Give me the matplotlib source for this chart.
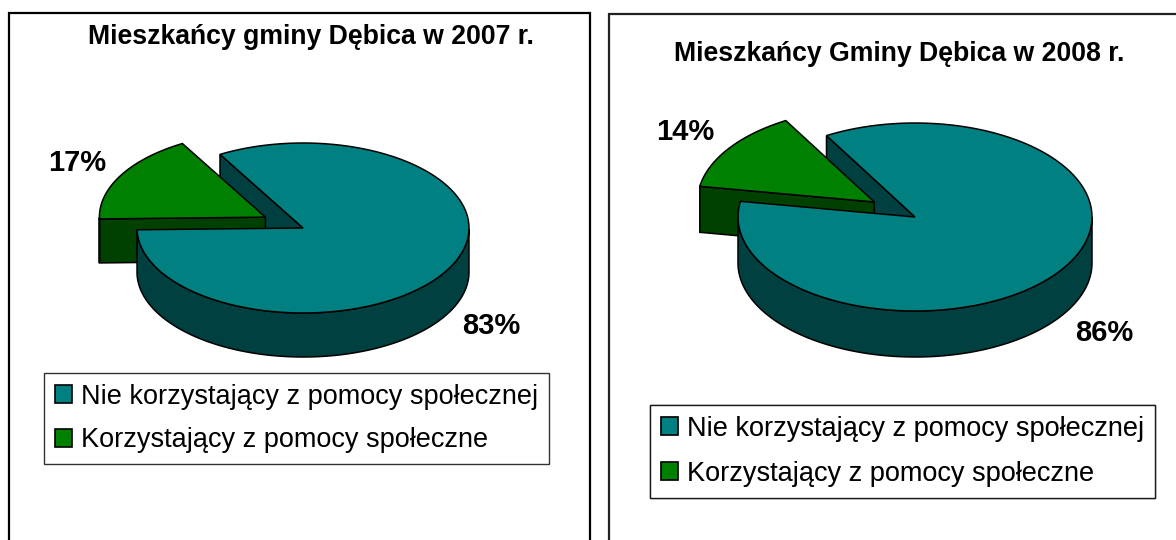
import numpy as np
import matplotlib
matplotlib.use("Agg")
import matplotlib.pyplot as plt
from matplotlib.patches import Polygon, Patch

plt.rcParams["font.family"] = ["Liberation Sans", "DejaVu Sans"]

# data
labels = ["Nie korzystający z pomocy społecznej", "Korzystający z pomocy społeczne"]
titles = ["Mieszkańcy gminy Dębica w 2007 r.", "Mieszkańcy Gminy Dębica w 2008 r."]
values_2007 = [83, 17]
values_2008 = [86, 14]

TOP = ["#008080", "#008000"]
SIDE = ["#004040", "#004000"]
EC = "k"
LW = 1.1

# layout in pixels (fig is 1176 x 540, y down)
panels = [
    dict(values=values_2007, title=titles[0], title_xy=(311, 37),
         cx=303, cy=228, rx=166, ry=85, depth=44, explode=[0, 0.26],
         legend_xy=(44, 373), labelspacing=0.64),
    dict(values=values_2008, title=titles[1], title_xy=(899, 54),
         cx=915, cy=217, rx=177, ry=94, depth=46, explode=[0, 0.28],
         legend_xy=(650, 405), labelspacing=0.7),
]


def arc(cx, cy, rx, ry, t0, t1, n=120):
    t = np.radians(np.linspace(t0, t1, n))
    return np.column_stack([cx + rx * np.cos(t), cy - ry * np.sin(t)])


def pie3d(ax, values, cx, cy, rx, ry, depth, explode, start=120.0):
    fr = np.asarray(values, float) / np.sum(values)
    hi = start - 360 * np.concatenate([[0], np.cumsum(fr)[:-1]])
    lo = hi - 360 * fr
    centers = []
    for i in range(len(fr)):
        mid = np.radians((hi[i] + lo[i]) / 2)
        centers.append((cx + explode[i] * rx * np.cos(mid),
                        cy - explode[i] * ry * np.sin(mid)))
    d = np.array([0, depth])

    # radial side faces that face the viewer
    for i in range(len(fr)):
        vx, vy = centers[i]
        for a, vis in ((hi[i], np.cos(np.radians(hi[i])) < 0),
                       (lo[i], np.cos(np.radians(lo[i])) > 0)):
            if not vis:
                continue
            p = arc(vx, vy, rx, ry, a, a, 1)[0]
            v = np.array([vx, vy])
            ax.add_patch(Polygon([v, p, p + d, v + d], closed=True,
                                 fc=SIDE[i], ec=EC, lw=LW, joinstyle="miter"))
    # front outer walls
    for i in range(len(fr)):
        vx, vy = centers[i]
        t = np.linspace(lo[i], hi[i], 400)
        front = t[np.sin(np.radians(t)) <= 0]
        if len(front) < 2:
            continue
        top = arc(vx, vy, rx, ry, front[0], front[-1])
        ax.add_patch(Polygon(np.vstack([top, (top + d)[::-1]]), closed=True,
                             fc=SIDE[i], ec=EC, lw=LW))
    # top faces (exploded ones first)
    for i in np.argsort(-np.asarray(explode)):
        vx, vy = centers[i]
        top = arc(vx, vy, rx, ry, lo[i], hi[i])
        ax.add_patch(Polygon(np.vstack([[vx, vy], top]), closed=True,
                             fc=TOP[i], ec=EC, lw=LW))
    # percentage labels
    for i in range(len(fr)):
        vx, vy = centers[i]
        mid = np.radians((hi[i] + lo[i]) / 2)
        lx = vx + 1.3 * rx * np.cos(mid)
        ly = vy - 1.3 * ry * np.sin(mid) + (depth if np.sin(mid) < 0 else 0)
        ax.text(lx, ly, f"{values[i]:.0f}%", ha="center", va="center",
                fontsize=21, fontweight="bold")


fig = plt.figure(figsize=(11.76, 5.4), dpi=100)
ax = fig.add_axes([0, 0, 1, 1])
ax.set_xlim(0, 1176)
ax.set_ylim(540, 0)
ax.axis("off")

# panel frames
ax.plot([9, 9, 590, 590], [545, 13, 13, 545], color="k", lw=1.6,
        solid_joinstyle="miter")
ax.plot([609, 609, 1180], [545, 14, 14], color="#222222", lw=1.6,
        solid_joinstyle="miter")

for p in panels:
    pie3d(ax, p["values"], p["cx"], p["cy"], p["rx"], p["ry"], p["depth"],
          p["explode"])
    ax.text(*p["title_xy"], p["title"], ha="center", va="center",
            fontsize=19.2, fontweight="bold")
    handles = [Patch(fc=TOP[i], ec=EC, lw=1.2) for i in range(len(labels))]
    leg = ax.legend(handles, labels, loc="upper left",
                    bbox_to_anchor=p["legend_xy"],
                    bbox_transform=ax.transData, borderaxespad=0,
                    fontsize=19.5, frameon=True, fancybox=False,
                    edgecolor="k", handlelength=0.63, handleheight=0.63,
                    handletextpad=0.33, borderpad=0.4,
                    labelspacing=p["labelspacing"])
    leg.get_frame().set_linewidth(1.0)
    ax.add_artist(leg)

fig.savefig("out.png", dpi=100)
